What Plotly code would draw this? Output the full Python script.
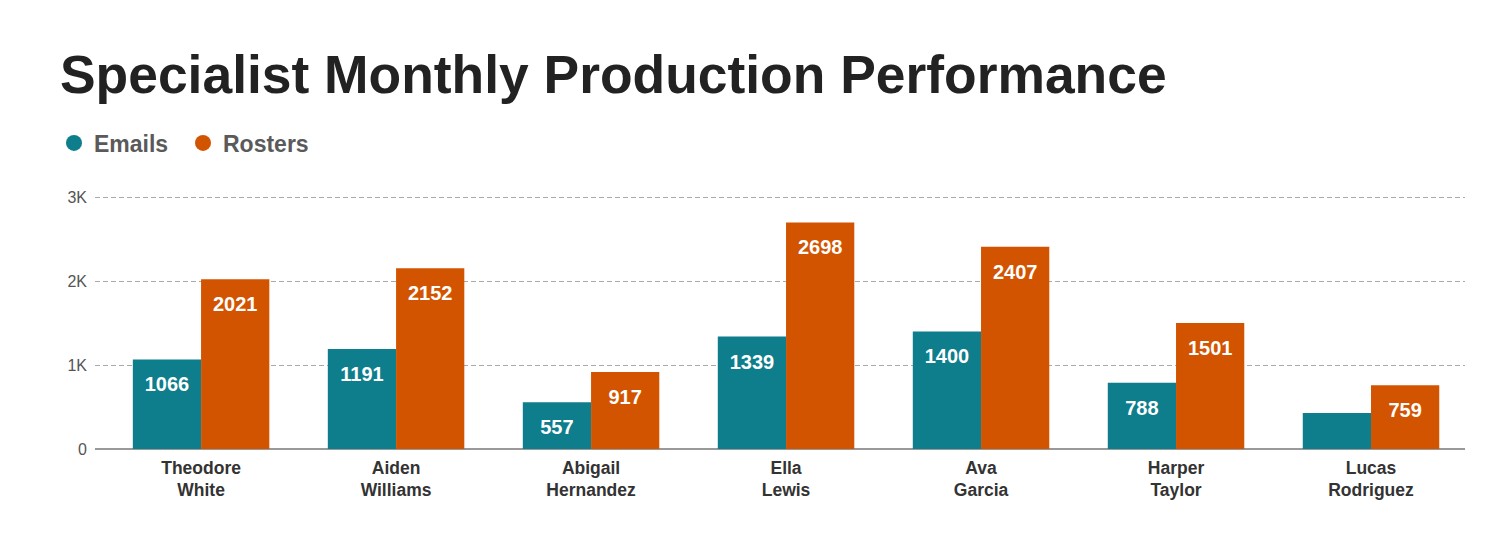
import plotly.graph_objects as go

# names of the specialists (two-line tick labels)
specialists = ["Theodore<br>White", "Aiden<br>Williams", "Abigail<br>Hernandez",
               "Ella<br>Lewis", "Ava<br>Garcia", "Harper<br>Taylor", "Lucas<br>Rodriguez"]
emails = [1066, 1191, 557, 1339, 1400, 788, 430]
rosters = [2021, 2152, 917, 2698, 2407, 1501, 759]
y_ticks = [0, 1000, 2000, 3000]
y_tick_labels = ["0", "1K", "2K", "3K"]

TEAL = "#0E7D8C"
ORANGE = "#D35400"

# small spacer line pushes the value label a bit below the bar top
PAD = "<span style='font-size:3px'> </span><br>"
# the smallest bar has no label in the reference
email_text = [PAD + str(v) if v >= 500 else "" for v in emails]
roster_text = [PAD + str(v) for v in rosters]

fig = go.Figure()
fig.add_trace(go.Bar(x=specialists, y=emails, name="Emails", marker_color=TEAL,
                     text=email_text, showlegend=False))
fig.add_trace(go.Bar(x=specialists, y=rosters, name="Rosters", marker_color=ORANGE,
                     text=roster_text, showlegend=False))
fig.update_traces(textposition="inside", insidetextanchor="end", marker_line_width=0,
                  textfont=dict(size=20, color="white", family="Liberation Sans", weight="bold"),
                  textangle=0)

# circle markers for the legend
for name, col in [("Emails", TEAL), ("Rosters", ORANGE)]:
    fig.add_trace(go.Scatter(x=[None], y=[None], mode="markers", name=name,
                             marker=dict(symbol="circle", size=21, color=col)))

# page has an 8px body margin, so the figure is 16px smaller than the window
W, H = 1484, 520
fig.update_layout(
    width=W, height=H,
    paper_bgcolor="white", plot_bgcolor="white",
    margin=dict(l=87, r=27, t=188, b=79),
    font=dict(family="Liberation Sans", color="#333"),
    title=dict(text="<b>Specialist Monthly Production Performance</b>",
               x=52 / W, xref="container", xanchor="left",
               y=1 - 66 / H, yref="container", yanchor="middle",
               font=dict(size=53.4, color="#222")),
    legend=dict(orientation="h", xref="container", yref="container",
                x=46 / W, y=1 - 135 / H, xanchor="left", yanchor="middle",
                font=dict(size=23, color="#5a5a5a", weight="bold"),
                entrywidth=84, tracegroupgap=0),
    barmode="group", bargap=0.3, bargroupgap=0,
)
fig.update_xaxes(range=[-0.544, 6.482], showline=False, ticks="",
                 tickfont=dict(size=17.5, color="#333", weight="bold"),
                 ticklabelstandoff=6)
fig.update_yaxes(range=[0, 3012], tickvals=y_ticks, ticktext=y_tick_labels,
                 showgrid=True, gridcolor="#aaaaaa", griddash="5px,3px", gridwidth=1,
                 zeroline=True, zerolinecolor="#999999", zerolinewidth=2,
                 tickfont=dict(size=16, color="#555"), ticklabelstandoff=7)

fig.write_html("out.html")
